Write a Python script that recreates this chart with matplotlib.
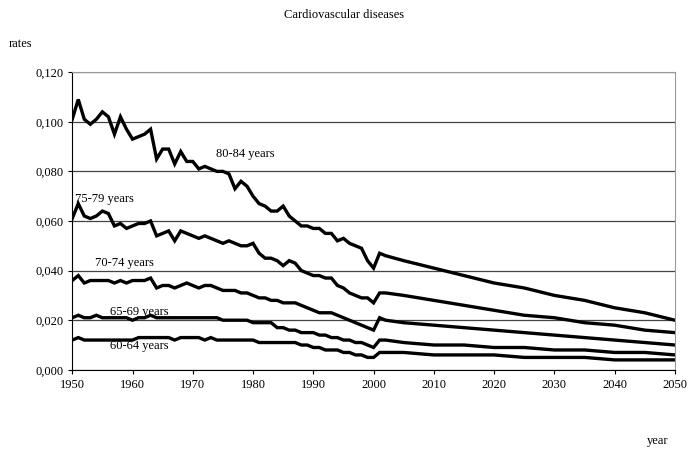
import numpy as np
import matplotlib
matplotlib.use("Agg")
import matplotlib.pyplot as plt
from matplotlib.ticker import FuncFormatter

years = list(range(1950, 2003)) + list(range(2005, 2051, 5))

r80 = [0.101, 0.109, 0.101, 0.099, 0.101, 0.104, 0.102, 0.095, 0.102, 0.097,
       0.093, 0.094, 0.095, 0.097, 0.085, 0.089, 0.089, 0.083, 0.088, 0.084,
       0.084, 0.081, 0.082, 0.081, 0.080, 0.080, 0.079, 0.073, 0.076, 0.074,
       0.070, 0.067, 0.066, 0.064, 0.064, 0.066, 0.062, 0.060, 0.058, 0.058,
       0.057, 0.057, 0.055, 0.055, 0.052, 0.053, 0.051, 0.050, 0.049, 0.044,
       0.041, 0.047, 0.046,
       0.044, 0.041, 0.038, 0.035, 0.033, 0.030, 0.028, 0.025, 0.023, 0.020]
r75 = [0.061, 0.067, 0.062, 0.061, 0.062, 0.064, 0.063, 0.058, 0.059, 0.057,
       0.058, 0.059, 0.059, 0.060, 0.054, 0.055, 0.056, 0.052, 0.056, 0.055,
       0.054, 0.053, 0.054, 0.053, 0.052, 0.051, 0.052, 0.051, 0.050, 0.050,
       0.051, 0.047, 0.045, 0.045, 0.044, 0.042, 0.044, 0.043, 0.040, 0.039,
       0.038, 0.038, 0.037, 0.037, 0.034, 0.033, 0.031, 0.030, 0.029, 0.029,
       0.027, 0.031, 0.031,
       0.030, 0.028, 0.026, 0.024, 0.022, 0.021, 0.019, 0.018, 0.016, 0.015]
r70 = [0.036, 0.038, 0.035, 0.036, 0.036, 0.036, 0.036, 0.035, 0.036, 0.035,
       0.036, 0.036, 0.036, 0.037, 0.033, 0.034, 0.034, 0.033, 0.034, 0.035,
       0.034, 0.033, 0.034, 0.034, 0.033, 0.032, 0.032, 0.032, 0.031, 0.031,
       0.030, 0.029, 0.029, 0.028, 0.028, 0.027, 0.027, 0.027, 0.026, 0.025,
       0.024, 0.023, 0.023, 0.023, 0.022, 0.021, 0.020, 0.019, 0.018, 0.017,
       0.016, 0.021, 0.020,
       0.019, 0.018, 0.017, 0.016, 0.015, 0.014, 0.013, 0.012, 0.011, 0.010]
r65 = [0.021, 0.022, 0.021, 0.021, 0.022, 0.021, 0.021, 0.021, 0.021, 0.021,
       0.020, 0.021, 0.021, 0.022, 0.021, 0.021, 0.021, 0.021, 0.021, 0.021,
       0.021, 0.021, 0.021, 0.021, 0.021, 0.020, 0.020, 0.020, 0.020, 0.020,
       0.019, 0.019, 0.019, 0.019, 0.017, 0.017, 0.016, 0.016, 0.015, 0.015,
       0.015, 0.014, 0.014, 0.013, 0.013, 0.012, 0.012, 0.011, 0.011, 0.010,
       0.009, 0.012, 0.012,
       0.011, 0.010, 0.010, 0.009, 0.009, 0.008, 0.008, 0.007, 0.007, 0.006]
r60 = [0.012, 0.013, 0.012, 0.012, 0.012, 0.012, 0.012, 0.012, 0.012, 0.012,
       0.012, 0.013, 0.013, 0.013, 0.013, 0.013, 0.013, 0.012, 0.013, 0.013,
       0.013, 0.013, 0.012, 0.013, 0.012, 0.012, 0.012, 0.012, 0.012, 0.012,
       0.012, 0.011, 0.011, 0.011, 0.011, 0.011, 0.011, 0.011, 0.010, 0.010,
       0.009, 0.009, 0.008, 0.008, 0.008, 0.007, 0.007, 0.006, 0.006, 0.005,
       0.005, 0.007, 0.007,
       0.007, 0.006, 0.006, 0.006, 0.005, 0.005, 0.005, 0.004, 0.004, 0.004]

series = [r80, r75, r70, r65, r60]
labels = ["80-84 years", "75-79 years", "70-74 years", "65-69 years", "60-64 years"]
label_pos = [(1973.8, 0.087), (1950.5, 0.069), (1953.8, 0.043), (1956.3, 0.0234), (1956.3, 0.0095)]

plt.rcParams['font.family'] = ['Liberation Serif', 'DejaVu Serif']
fig = plt.figure(figsize=(6.88, 4.51), dpi=100)
ax = fig.add_axes([0.105, 0.18, 0.876, 0.66])

for s in series:
    ax.plot(years, s, color='black', lw=2.4, solid_joinstyle='miter')
for lab, (x, y) in zip(labels, label_pos):
    ax.text(x, y, lab, fontsize=9, va='center', ha='left')

ax.set_xlim(1950, 2050)
ax.set_ylim(0, 0.12)
ax.set_xticks(range(1950, 2051, 10))
ax.set_yticks(np.arange(0, 0.121, 0.02))
ax.yaxis.set_major_formatter(FuncFormatter(lambda v, p: f"{v:.3f}".replace('.', ',')))
ax.tick_params(labelsize=9, length=3)
ax.grid(axis='y', color='#444444', lw=0.9)
for sp in ['top', 'right']:
    ax.spines[sp].set_color('#999999')

fig.text(0.5, 0.96, "Cardiovascular diseases", ha='center', fontsize=9)
fig.text(0.012, 0.895, "rates", fontsize=9)
fig.text(0.94, 0.015, "year", fontsize=9)
plt.savefig("out.png")
